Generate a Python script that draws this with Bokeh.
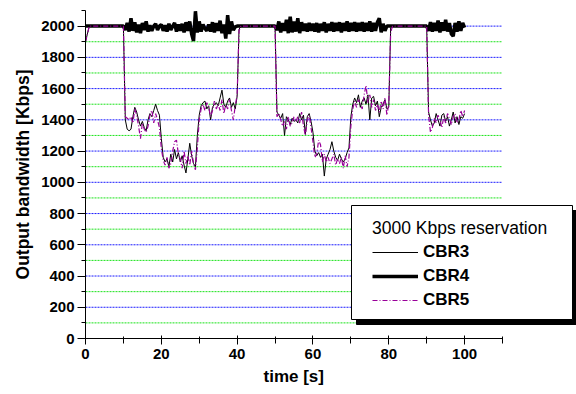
import numpy as np
from bokeh.plotting import figure
from bokeh.models import Range1d, SingleIntervalTicker, Legend, LegendItem, BoxAnnotation, Title
from bokeh.embed import file_html
from bokeh.resources import INLINE

# sample times (s)
time_s = np.arange(0, 100.5, 0.5)

cbr3 = [
    1900, 1950, 2000, 2000, 2000, 2000, 2000, 2000, 2000, 2000,
    2000, 2000, 2000, 2000, 2000, 2000, 2000, 2000, 2000, 2000,
    2000, 1400, 1340, 1330, 1340, 1420, 1480, 1450, 1400, 1360,
    1390, 1350, 1330, 1400, 1440, 1420, 1460, 1500, 1460, 1430,
    1280, 1160, 1130, 1150, 1100, 1180, 1130, 1210, 1150, 1190,
    1130, 1170, 1110, 1060, 1150, 1250, 1170, 1120, 1100, 1300,
    1430, 1490, 1510, 1520, 1470, 1490, 1400, 1480, 1500, 1510,
    1490, 1540, 1590, 1500, 1480, 1520, 1540, 1480, 1510, 1470,
    1550, 1980, 2000, 2000, 2000, 2000, 2000, 2000, 2000, 2000,
    2000, 2000, 2000, 2000, 2000, 2000, 2000, 2000, 2000, 2000,
    2000, 1450, 1430, 1410, 1440, 1300, 1420, 1400, 1370, 1410,
    1390, 1400, 1380, 1440, 1400, 1430, 1310, 1420, 1440, 1390,
    1320, 1200, 1170, 1190, 1160, 1180, 1040, 1150, 1180, 1210,
    1260, 1200, 1160, 1140, 1180, 1150, 1130, 1150, 1190, 1220,
    1420, 1500, 1540, 1510, 1560, 1480, 1520, 1540, 1500, 1560,
    1400, 1540, 1550, 1490, 1520, 1420, 1480, 1500, 1530, 1470,
    1480, 1990, 2000, 2000, 2000, 2000, 2000, 2000, 2000, 2000,
    2000, 2000, 2000, 2000, 2000, 2000, 2000, 2000, 2000, 2000,
    2000, 1450, 1400, 1360, 1380, 1440, 1400, 1360, 1430, 1440,
    1390, 1420, 1360, 1400, 1450, 1380, 1420, 1370, 1420, 1410,
    1440,
]

cbr4 = [
    2000, 2000, 2000, 2000, 2000, 2000, 2000, 2000, 2000, 2000,
    2000, 2000, 2000, 2000, 2000, 2000, 2000, 2000, 2000, 2000,
    2000, 1975, 2020, 1965, 2050, 1970, 2025, 1960, 2010, 1955,
    2020, 1975, 2030, 1965, 2005, 1970, 2000, 2015, 1975, 2000,
    2010, 1970, 2005, 1965, 2015, 1975, 2000, 2020, 1965, 2010,
    1970, 2015, 1960, 2025, 1970, 2030, 1950, 1905, 2095, 1960,
    2030, 1965, 2010, 1985, 1970, 2010, 1965, 2025, 1960, 2020,
    1970, 2035, 1955, 2010, 1920, 2070, 1950, 2030, 1975, 1995,
    2000, 2000, 2000, 2000, 2000, 2000, 2000, 2000, 2000, 2000,
    2000, 2000, 2000, 2000, 2000, 2000, 2000, 2000, 2000, 2000,
    2000, 1975, 2030, 1960, 2020, 1970, 2040, 1955, 2060, 1960,
    2030, 1965, 2050, 1955, 2025, 1970, 2015, 1965, 2020, 1970,
    2015, 1965, 2020, 1960, 2015, 1970, 2025, 1960, 2015, 1970,
    2025, 1965, 2020, 1970, 2025, 1960, 2020, 1970, 2030, 1965,
    2020, 1970, 2025, 1965, 2020, 1970, 2025, 1965, 2020, 1970,
    2030, 1965, 2020, 1970, 2025, 2050, 1960, 2015, 1970, 2000,
    2000, 2000, 2000, 2000, 2000, 2000, 2000, 2000, 2000, 2000,
    2000, 2000, 2000, 2000, 2000, 2000, 2000, 2000, 2000, 2000,
    2000, 1970, 2025, 1965, 2020, 1970, 2035, 1960, 2025, 1970,
    2040, 1965, 2020, 1950, 1935, 2020, 1965, 2030, 1970, 2020,
    1990,
]

cbr5 = [
    1900, 1950, 2000, 2000, 2000, 2000, 2000, 2000, 2000, 2000,
    2000, 2000, 2000, 2000, 2000, 2000, 2000, 2000, 2000, 2000,
    2000, 1420, 1410, 1400, 1420, 1380, 1470, 1430, 1360, 1280,
    1380, 1340, 1320, 1360, 1430, 1460, 1380, 1440, 1400, 1350,
    1220, 1140, 1110, 1160, 1090, 1120, 1200, 1260, 1270, 1180,
    1150, 1090, 1200, 1120, 1170, 1110, 1200, 1120, 1080, 1220,
    1400, 1470, 1500, 1460, 1510, 1480, 1420, 1460, 1520, 1470,
    1500, 1460, 1530, 1440, 1500, 1470, 1530, 1460, 1400, 1490,
    1560, 1970, 2000, 2000, 2000, 2000, 2000, 2000, 2000, 2000,
    2000, 2000, 2000, 2000, 2000, 2000, 2000, 2000, 2000, 2000,
    2000, 1420, 1440, 1400, 1360, 1390, 1340, 1420, 1360, 1380,
    1420, 1390, 1420, 1380, 1450, 1360, 1300, 1400, 1430, 1350,
    1260, 1160, 1180, 1270, 1240, 1130, 1180, 1130, 1160, 1120,
    1150, 1180, 1110, 1150, 1120, 1160, 1090, 1170, 1100, 1160,
    1360, 1470, 1520, 1480, 1530, 1500, 1470, 1560, 1620, 1510,
    1560, 1480, 1530, 1460, 1500, 1450, 1520, 1470, 1540, 1430,
    1500, 1960, 2000, 2000, 2000, 2000, 2000, 2000, 2000, 2000,
    2000, 2000, 2000, 2000, 2000, 2000, 2000, 2000, 2000, 2000,
    2000, 1430, 1320, 1350, 1410, 1380, 1430, 1400, 1350, 1420,
    1380, 1440, 1410, 1370, 1420, 1440, 1380, 1400, 1460, 1420,
    1460,
]

series_labels = ["CBR3", "CBR4", "CBR5"]
legend_title = "3000 Kbps reservation"
x_label = "time [s]"
y_label = "Output bandwidth [Kbps]"

# axis extents and grid levels
x_axis_min, x_axis_max = 0, 110
y_axis_min, y_axis_max = 0, 2100
y_major_grid = [200, 400, 600, 800, 1000, 1200, 1400, 1600, 1800, 2000]
y_minor_grid = [100, 300, 500, 700, 900, 1100, 1300, 1500, 1700, 1900]

FONT = "Liberation Sans"

# frame spans x=85..576 px; axis drawn only over 0..110
FRAME_LEFT, FRAME_RIGHT_AXIS, FRAME_RIGHT = 85, 502, 576
x_view_end = x_axis_max * (FRAME_RIGHT - FRAME_LEFT) / (FRAME_RIGHT_AXIS - FRAME_LEFT)

p = figure(width=576, height=394, output_backend="svg", toolbar_location=None,
           x_range=Range1d(x_axis_min, x_view_end), y_range=Range1d(y_axis_min, y_axis_max),
           min_border_left=85, min_border_right=0, min_border_top=10, min_border_bottom=56)
p.outline_line_color = None
p.background_fill_color = "white"
p.border_fill_color = "white"
p.xgrid.visible = False
p.ygrid.visible = False

p.xaxis.ticker = SingleIntervalTicker(interval=20, num_minor_ticks=2)
p.yaxis.ticker = SingleIntervalTicker(interval=200, num_minor_ticks=2)
p.xaxis.bounds = (x_axis_min, x_axis_max)

for ax in (p.xaxis[0], p.yaxis[0]):
    ax.axis_line_color = "black"
    ax.major_tick_line_color = "black"
    ax.minor_tick_line_color = "black"
    ax.major_label_text_font = FONT
    ax.major_label_text_font_style = "bold"
    ax.major_label_text_font_size = "15px"
    ax.major_label_text_color = "black"
    ax.axis_label_text_font = FONT
    ax.axis_label_text_font_style = "bold"
    ax.axis_label_text_font_size = "17.5px"
    ax.axis_label_text_color = "black"

p.xaxis.major_tick_out = 6
p.xaxis.major_tick_in = 3
p.xaxis.minor_tick_out = 5
p.xaxis.minor_tick_in = 2
p.xaxis.major_label_standoff = 4

p.yaxis.major_tick_out = 8
p.yaxis.major_tick_in = 0
p.yaxis.minor_tick_out = 4
p.yaxis.minor_tick_in = 0
p.yaxis.major_label_standoff = 3
p.yaxis.axis_label_standoff = 5
p.yaxis.axis_label = y_label

# x-axis title centred under the 0..110 axis
xt = Title(text=x_label, align="left", offset=178, standoff=7,
           text_font=FONT, text_font_style="bold", text_font_size="17px", text_color="black")
p.add_layout(xt, "below")

# horizontal grid lines over the axis span
p.segment(x0=[x_axis_min] * len(y_minor_grid), x1=[x_axis_max] * len(y_minor_grid),
          y0=y_minor_grid, y1=y_minor_grid, line_color="#00e000", line_width=1,
          line_dash="2 1", line_alpha=0.9)
p.segment(x0=[x_axis_min] * len(y_major_grid), x1=[x_axis_max] * len(y_major_grid),
          y0=y_major_grid, y1=y_major_grid, line_color="#0000ff", line_width=1,
          line_dash="2 1", line_alpha=0.9)

r4 = p.line(time_s, cbr4, line_color="black", line_width=3.5)
r3 = p.line(time_s, cbr3, line_color="black", line_width=1)
r5 = p.line(time_s, cbr5, line_color="#990099", line_width=1.2, line_dash="5 2 1 2")

# legend frame with drop shadow (canvas pixels)
shadow = BoxAnnotation(left=356, right=577, top=210, bottom=324,
                       left_units="canvas", right_units="canvas",
                       top_units="canvas", bottom_units="canvas",
                       fill_color="black", fill_alpha=1.0, line_color="black", line_alpha=1.0)
box = BoxAnnotation(left=351, right=572, top=205, bottom=319,
                    left_units="canvas", right_units="canvas",
                    top_units="canvas", bottom_units="canvas",
                    fill_color="white", fill_alpha=1.0, line_color="black", line_alpha=1.0,
                    line_width=1)
p.add_layout(shadow)
p.add_layout(box)

items = [LegendItem(label=series_labels[0], renderers=[r3]),
         LegendItem(label=series_labels[1], renderers=[r4]),
         LegendItem(label=series_labels[2], renderers=[r5])]
lg = Legend(items=items, title=legend_title, location=(287, 28))
lg.title_text_font = FONT
lg.title_text_font_style = "normal"
lg.title_text_font_size = "17.5px"
lg.title_text_color = "black"
lg.label_text_font = FONT
lg.label_text_font_style = "bold"
lg.label_text_font_size = "17px"
lg.label_text_color = "black"
lg.glyph_width = 46
lg.glyph_height = 20
lg.label_height = 20
lg.label_standoff = 5
lg.spacing = 4
lg.padding = 0
lg.margin = 0
lg.title_standoff = 3
lg.border_line_color = None
lg.background_fill_alpha = 0
p.add_layout(lg, "center")

open("out.html", "w").write(file_html(p, INLINE))
